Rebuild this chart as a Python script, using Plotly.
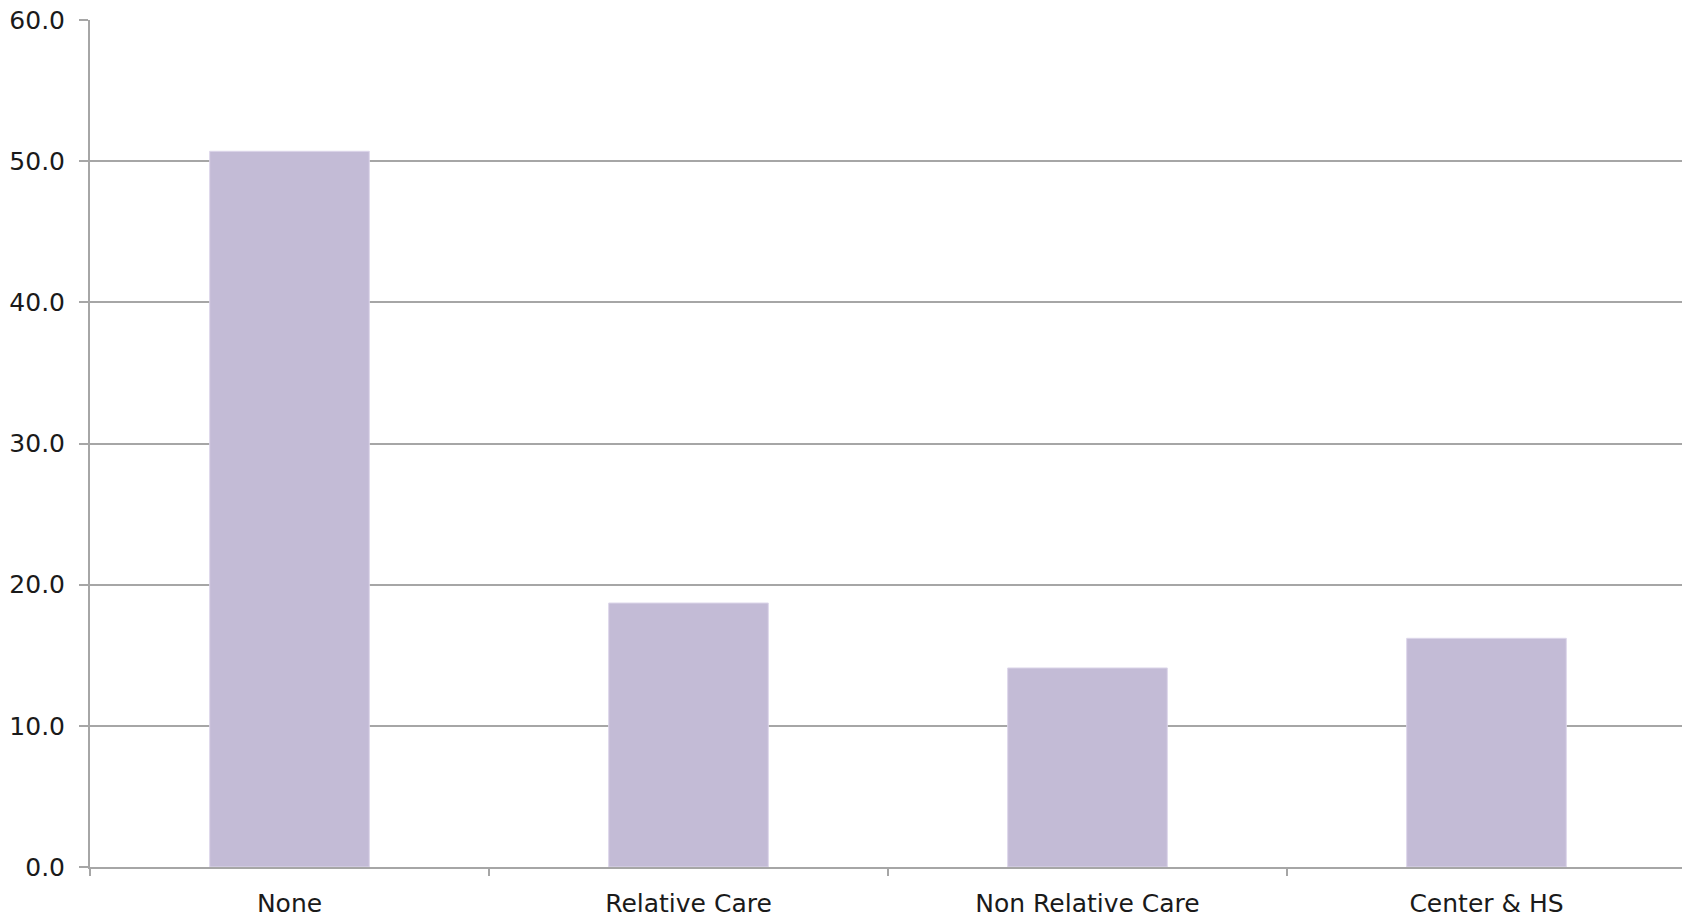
import plotly.graph_objects as go

categories = ["None", "Relative Care", "Non Relative Care", "Center & HS"]
values = [50.7, 18.7, 14.1, 16.2]

fig = go.Figure()
fig.add_trace(go.Bar(
    x=categories, y=values,
    marker=dict(color="#c3bbd6", line=dict(color="#dcd6ea", width=1)),
    width=0.4,
))

axis_col = "#a6a6a6"
font = dict(family="'DejaVu Sans', sans-serif", size=25, color="#1a1a1a")

fig.update_layout(
    width=1686, height=917,
    margin=dict(l=90, r=0, t=20, b=50),
    paper_bgcolor="white", plot_bgcolor="white",
    showlegend=False,
    font=font,
    bargap=0.6,
)
fig.update_xaxes(
    type="category",
    showline=True, linecolor=axis_col, linewidth=2,
    ticks="outside", tickson="boundaries", ticklen=7, tickcolor=axis_col, tickwidth=1.5,
    showgrid=False, ticklabelstandoff=13,
    range=[-0.5, 3.5],
)
fig.update_yaxes(
    range=[0, 60], dtick=10, tickformat=".1f",
    showline=True, linecolor=axis_col, linewidth=2,
    showgrid=True, gridcolor=axis_col, gridwidth=1.5,
    ticks="outside", ticklen=9, tickcolor=axis_col, tickwidth=1.5,
    ticklabelstandoff=9, zeroline=False,
)

fig.write_html("out.html", config={"displayModeBar": False},
               post_script="document.body.style.margin='0';document.body.style.overflow='hidden';document.documentElement.style.overflow='hidden';")
